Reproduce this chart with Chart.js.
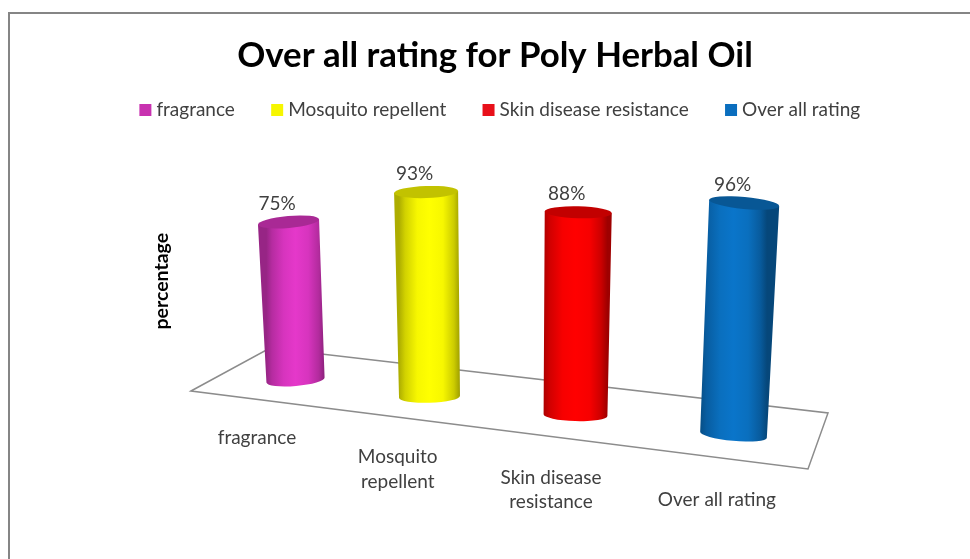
<!DOCTYPE html>
<html>
<head>
<meta charset="utf-8">
<style>
html,body{margin:0;padding:0;background:#fff;overflow:hidden}
#wrap{position:relative;width:970px;height:559px}
#frame{position:absolute;left:8px;top:12px;right:0;bottom:0;border-top:2px solid #858585;border-left:2px solid #858585;pointer-events:none}
canvas{display:block}
</style>
<script src="https://cdn.jsdelivr.net/npm/chart.js@4"></script>
</head>
<body>
<div id="wrap"><canvas id="c" width="970" height="559"></canvas><div id="frame"></div></div>
<script>
const chartTitle = 'Over all rating for Poly Herbal Oil';
const axisTitle = 'percentage';
const categories = ['fragrance', 'Mosquito repellent', 'Skin disease resistance', 'Over all rating'];
const tickLabels = ['fragrance', ['Mosquito', 'repellent'], ['Skin disease', 'resistance'], 'Over all rating'];
const values = [75, 93, 88, 96];
const colors = ['#DE36C4', '#FFFF00', '#FF0000', '#0A72C4'];
const legendColors = ['#C832B0', '#F6F600', '#E8101A', '#0A6EBE'];
const textColor = '#404040';
const FONT = 'Lato, "Open Sans", sans-serif';

/* oblique view of the floor: maps the flat chart plane onto the picture */
const view = {
  floor: [[191, 391], [270, 348], [828, 413], [808, 469]],
  x0: 295.5, x1: 128, x2: 6,          // base centre along the floor
  baseY0: 380, baseSlope: 0.1253,     // base centre height along the floor
  k0: 2.107, kSlope: 0.000706,        // pixels per percent along the floor
  kNear: 2.417,                       // pixels per percent at the nearest bar
  leanX: 510, lean: 0.000206,         // verticals converge on a far vanishing point
  topGrow: 1.05, ry: 6
};
let yUnit = 1, firstPx = 0, stepPx = 1;

const warpX = p => { const i = (p - firstPx) / stepPx; return view.x0 + view.x1 * i + view.x2 * i * i; };
const baseY = x => view.baseY0 + (x - view.x0) * view.baseSlope;
const unitAt = x => view.k0 + (x - view.x0) * view.kSlope;
function topOf(el) {
  const x = warpX(el.x), f = unitAt(x) / yUnit, h = (el.base - el.y) * f, tilt = (view.leanX - x) * view.lean;
  return { x, f, h, tilt, near: unitAt(x) / view.kNear, bx: x, by: baseY(x), tx: x - tilt * h, ty: baseY(x) - h };
}
function shade(hex, m) {
  const n = parseInt(hex.slice(1), 16);
  const ch = s => Math.max(0, Math.min(255, Math.round(((n >> s) & 255) * m)));
  return `rgb(${ch(16)},${ch(8)},${ch(0)})`;
}

Chart.BarElement.prototype.draw = function (ctx) {
  const g = topOf(this), col = this.options.backgroundColor;
  const bw = this.width * g.near / 2, tw = bw * view.topGrow, ang = -2 * g.tilt;
  ctx.save();
  const grad = ctx.createLinearGradient(g.bx - bw, 0, g.bx + bw, 0);
  [[0, .68], [.1, .82], [.3, .97], [.5, 1.03], [.72, .97], [.9, .8], [1, .62]]
    .forEach(s => grad.addColorStop(s[0], shade(col, s[1])));
  ctx.beginPath();
  ctx.moveTo(g.tx - tw * Math.cos(ang), g.ty - tw * Math.sin(ang));
  ctx.ellipse(g.bx, g.by, bw, view.ry, ang, Math.PI, 0, true);
  ctx.lineTo(g.tx + tw * Math.cos(ang), g.ty + tw * Math.sin(ang));
  ctx.closePath();
  ctx.fillStyle = grad;
  ctx.fill();
  ctx.beginPath();
  ctx.ellipse(g.tx, g.ty, tw, view.ry, ang, 0, Math.PI * 2);
  ctx.fillStyle = shade(col, .76);
  ctx.fill();
  ctx.restore();
};

const scenePlugin = {
  id: 'scene',
  afterLayout(chart) {
    const x = chart.scales.x, y = chart.scales.y;
    firstPx = x.getPixelForValue(0);
    stepPx = x.getPixelForValue(1) - firstPx;
    yUnit = y.height / (y.max - y.min);
    chart.legend.left += 7; chart.legend.right += 7;
  },
  beforeDatasetsDraw(chart) {
    const c = chart.ctx, f = view.floor;
    c.save();
    c.beginPath();
    f.forEach((p, i) => i ? c.lineTo(p[0], p[1]) : c.moveTo(p[0], p[1]));
    c.closePath();
    c.strokeStyle = '#8c8c8c';
    c.lineWidth = 1.5;
    c.stroke();
    c.restore();
  },
  afterDatasetsDraw(chart) {
    const c = chart.ctx, meta = chart.getDatasetMeta(0);
    c.save();
    c.fillStyle = textColor;
    c.font = '19px ' + FONT;
    c.textAlign = 'center';
    c.textBaseline = 'middle';
    meta.data.forEach((el, i) => {
      const g = topOf(el);
      c.fillText(values[i] + '%', g.tx - 11.5, g.ty - 18.5);
      const lx = g.bx - 38.5 + (g.bx - view.x0) * 0.05;
      const ly = 438 + (lx - 257) * 0.1345;
      [].concat(tickLabels[i]).forEach((line, j) => c.fillText(line, lx, ly + j * 24.5));
    });
    c.restore();
  }
};

new Chart(document.getElementById('c'), {
  type: 'bar',
  data: {
    labels: categories,
    datasets: [{ data: values, backgroundColor: colors, barPercentage: 0.344, categoryPercentage: 1, clip: false }]
  },
  plugins: [scenePlugin],
  options: {
    responsive: false,
    animation: false,
    layout: { padding: { left: 20, right: 0, top: 0, bottom: 126 } },
    plugins: {
      tooltip: { enabled: false },
      title: {
        display: true, text: chartTitle, color: '#000',
        font: { family: FONT, size: 34.8, weight: 'bold', lineHeight: 1 },
        padding: { top: 38.6, bottom: -13.8 }
      },
      legend: {
        position: 'top',
        labels: {
          usePointStyle: true, pointStyle: 'rect',
          boxWidth: 3, boxHeight: 12, padding: 40.8, color: textColor,
          font: { family: FONT, size: 19 },
          generateLabels: () => categories.map((t, i) => ({
            text: t, fillStyle: legendColors[i], strokeStyle: legendColors[i], lineWidth: 0, pointStyle: 'rect', rotation: 0, index: i, hidden: false, fontColor: textColor
          }))
        }
      }
    },
    scales: {
      x: { display: false, grid: { display: false } },
      y: {
        min: 0, max: 100,
        grid: { display: false }, border: { display: false },
        ticks: { display: false },
        title: {
          display: true, text: axisTitle, color: '#000',
          font: { family: FONT, size: 19.5, weight: 'bold' },
          padding: { top: 130, bottom: 10 }
        }
      }
    }
  }
});
</script>
</body>
</html>
